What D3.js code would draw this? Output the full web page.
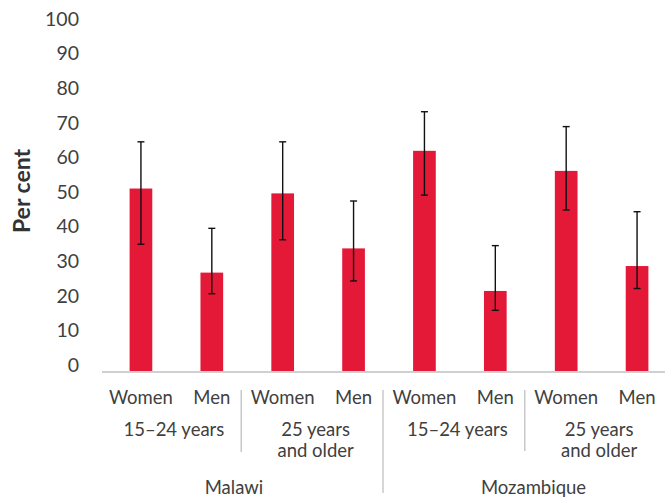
<!DOCTYPE html>
<html>
<head>
<meta charset="utf-8">
<script src="https://cdn.jsdelivr.net/npm/d3@7"></script>
<style>
  body { margin: 0; background: #fff; }
  text { font-family: Lato, "Open Sans", sans-serif; fill: #404040; }
</style>
</head>
<body>
<div id="chart"></div>
<script>
// Data
let countries = ['Malawi', 'Mozambique'];
let ageGroups = ['15–24 years', '25 years|and older'];
let sexes = ['Women', 'Men'];
let values = [51, 26.7, 49.6, 33.7, 61.9, 21.4, 56.1, 28.6];
let errLow = [34.9, 20.6, 36.2, 24.3, 49.1, 15.8, 44.8, 22.1];
let errHigh = [64.5, 39.5, 64.5, 47.4, 73.2, 34.5, 68.9, 44.3];
let yTicks = [0, 10, 20, 30, 40, 50, 60, 70, 80, 90, 100];

// build flat rows
let rows = [];
countries.forEach(function (c, ci) {
    ageGroups.forEach(function (a, ai) {
        sexes.forEach(function (s, si) {
            let i = ci * 4 + ai * 2 + si;
            rows.push({id: i, country: c, age: a, sex: s, value: values[i], lo: errLow[i], hi: errHigh[i]});
        });
    });
});

let width = 665, height = 501;
let baseY = 372;
let labelSize = '18.5px';

let svg = d3.select('#chart')
    .append('svg')
    .attr('width', width)
    .attr('height', height);

let x = d3.scaleBand()
    .domain(rows.map(function (d) { return d.id; }))
    .range([105.5, 672.5])
    .paddingInner(0.68)
    .paddingOuter(0.34);

let y = d3.scaleLinear().domain([0, 100]).range([365, 19]);

// Y axis labels
svg.append('g')
    .call(d3.axisLeft(y).tickValues(yTicks).tickSize(0).tickPadding(0))
    .attr('transform', 'translate(79,0)')
    .call(function (g) {
        g.select('.domain').remove();
        g.selectAll('text')
            .style('font-size', '19.5px')
            .style('font-family', 'Lato, sans-serif')
            .attr('fill', '#404040');
    });

svg.append('text')
    .attr('transform', 'translate(29.5,191) rotate(-90)')
    .attr('text-anchor', 'middle')
    .style('font-size', '23px')
    .style('font-weight', 'bold')
    .style('fill', '#333')
    .text('Per cent');

// Bars
svg.selectAll('.bar')
    .data(rows)
    .enter()
    .append('rect')
    .attr('class', 'bar')
    .attr('x', function (d) { return x(d.id); })
    .attr('width', x.bandwidth())
    .attr('y', function (d) { return y(d.value); })
    .attr('height', function (d) { return baseY - y(d.value); })
    .attr('fill', '#e31937');

// Axis line
svg.append('line')
    .attr('x1', 102).attr('x2', width)
    .attr('y1', baseY).attr('y2', baseY)
    .attr('stroke', '#d0d0d0')
    .attr('stroke-width', 2);

// Error bars
let eb = svg.selectAll('.err')
    .data(rows)
    .enter()
    .append('g')
    .attr('class', 'err')
    .attr('stroke', '#111')
    .attr('stroke-width', 1.4);

eb.append('line')
    .attr('x1', function (d) { return x(d.id) + x.bandwidth() / 2; })
    .attr('x2', function (d) { return x(d.id) + x.bandwidth() / 2; })
    .attr('y1', function (d) { return y(d.hi); })
    .attr('y2', function (d) { return y(d.lo); });

['hi', 'lo'].forEach(function (k) {
    eb.append('line')
        .attr('x1', function (d) { return x(d.id) + x.bandwidth() / 2 - 3.5; })
        .attr('x2', function (d) { return x(d.id) + x.bandwidth() / 2 + 3.5; })
        .attr('y1', function (d) { return y(d[k]); })
        .attr('y2', function (d) { return y(d[k]); });
});

let cx = function (id) { return x(id) + x.bandwidth() / 2; };

// Sex labels
svg.selectAll('.sex')
    .data(rows)
    .enter()
    .append('text')
    .attr('x', function (d) { return cx(d.id); })
    .attr('y', 403.5)
    .attr('text-anchor', 'middle')
    .style('font-size', labelSize)
    .text(function (d) { return d.sex; });

// Age group labels
let groups = [];
countries.forEach(function (c, ci) {
    ageGroups.forEach(function (a, ai) {
        groups.push({age: a, first: ci * 4 + ai * 2});
    });
});

let gl = svg.selectAll('.age')
    .data(groups)
    .enter()
    .append('text')
    .attr('text-anchor', 'middle')
    .attr('y', 436)
    .style('font-size', labelSize);

gl.each(function (d) {
    let t = d3.select(this);
    let mid = (cx(d.first) + cx(d.first + 1)) / 2 - 2.5;
    d.age.split('|').forEach(function (line, li) {
        t.append('tspan')
            .attr('x', mid)
            .attr('dy', li === 0 ? 0 : 20.5)
            .text(line);
    });
});

// Country labels
svg.selectAll('.country')
    .data(countries)
    .enter()
    .append('text')
    .attr('x', function (d, i) { return i === 0 ? 234 : 533.5; })
    .attr('y', 494)
    .attr('text-anchor', 'middle')
    .style('font-size', labelSize)
    .text(function (d) { return d; });

// Separators
let seps = [
    {id: 2, y2: 452},
    {id: 4, y2: 493},
    {id: 6, y2: 451}
];
svg.selectAll('.sep')
    .data(seps)
    .enter()
    .append('line')
    .attr('x1', function (d) { return x(d.id) - x.step() * x.paddingInner() / 2 - 6; })
    .attr('x2', function (d) { return x(d.id) - x.step() * x.paddingInner() / 2 - 6; })
    .attr('y1', 390)
    .attr('y2', function (d) { return d.y2; })
    .attr('stroke', '#c8c8c8')
    .attr('stroke-width', 1.5);
</script>
</body>
</html>
